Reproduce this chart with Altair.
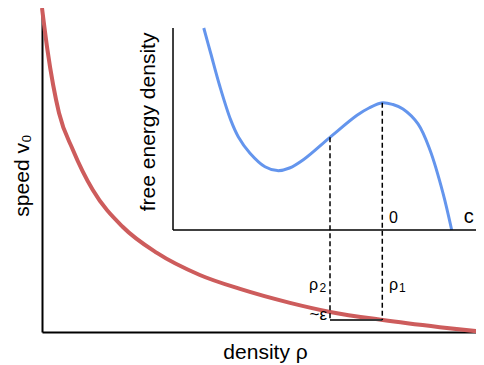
import altair as alt
import pandas as pd

# ---- data ----
# red curve: speed v0 against density rho (main axes units, both 0..10)
rho_values = [0.0, 0.124, 0.385, 0.70, 1.15, 1.83, 2.60, 3.57, 4.48, 5.61, 6.52, 7.71, 9.00, 10.0]
speed_values = [10.0, 8.70, 6.76, 5.62, 4.38, 3.24, 2.44, 1.76, 1.33, 0.90, 0.62, 0.37, 0.15, 0.0]

# blue curve: free energy density (inset units 0..10) against density
fe_rho = [3.66, 3.817, 4.027, 4.269, 4.44, 4.706, 5.045, 5.324, 5.60, 5.912, 6.516, 7.127,
          7.398, 7.699, 7.941, 8.167, 8.507, 8.778, 9.072, 9.269]
fe_values = [10.0, 8.75, 7.09, 5.45, 4.62, 3.80, 3.13, 2.94, 3.07, 3.48, 4.59, 5.68,
             6.04, 6.30, 6.21, 5.99, 5.25, 3.96, 1.83, 0.0]

rho_2 = 6.516
rho_1 = 7.699
eps_level = 0.37        # speed at rho_1 (the ~epsilon step)
dash_bottom = -4.455    # lower end of the dashed lines, inset units
inset_x = [2.964, 10.0]
inset_y = [0.0, 10.0]

FONT = "Liberation Sans"

# ---- scales / axes ----
xscale = alt.Scale(domain=[0, 10], range=[0, 442], nice=False, zero=False)
yscale = alt.Scale(domain=[0, 10], nice=False, zero=False)
iscale = alt.Scale(domain=[0, 10], range=[222, 20], nice=False, zero=False)

xaxis = alt.Axis(title="density ρ", titleFontSize=21, titleFont=FONT, titleFontWeight="normal",
                 titleColor="black", titlePadding=9, titleX=223, ticks=False, labels=False,
                 grid=False, domainColor="black", domainWidth=2)
yaxis = alt.Axis(title="speed v₀", titleFontSize=21, titleFont=FONT, titleFontWeight="normal",
                 titleColor="black", titlePadding=10, titleY=167, ticks=False, labels=False,
                 grid=False, domainColor="black", domainWidth=2)


def X(f="x"):
    return alt.X(f"{f}:Q", scale=xscale, axis=xaxis)


def Y(f="y"):
    return alt.Y(f"{f}:Q", scale=yscale, axis=yaxis)


def IY(f="y"):
    return alt.Y(f"{f}:Q", scale=iscale, axis=None)


def label(df, size, align, y_enc, dx=0, dy=0):
    return alt.Chart(df).mark_text(font=FONT, fontSize=size, align=align, baseline="alphabetic",
                                   color="black", dx=dx, dy=dy).encode(x=X(), y=y_enc, text="t:N")


# ---- main layer ----
red_df = pd.DataFrame({"x": rho_values, "y": speed_values})
red = alt.Chart(red_df).mark_line(color="#CD5C5C", strokeWidth=4, interpolate="monotone").encode(
    x=X(), y=Y())

eps_df = pd.DataFrame({"x": [rho_2], "x2": [rho_1], "y": [eps_level]})
eps_line = alt.Chart(eps_df).mark_rule(color="#3a3a3a", strokeWidth=2).encode(
    x=X(), x2="x2:Q", y=Y())

# labels rho_2 / rho_1 (symbol + subscript) and ~epsilon
rho2_df = pd.DataFrame({"x": [6.43], "y": [1.30], "t": ["ρ"]})
sub2_df = pd.DataFrame({"x": [6.43], "y": [1.30], "t": ["2"]})
rho1_df = pd.DataFrame({"x": [7.85], "y": [1.30], "t": ["ρ"]})
sub1_df = pd.DataFrame({"x": [7.85], "y": [1.30], "t": ["1"]})
eps_lab_df = pd.DataFrame({"x": [6.45], "y": [0.37], "t": ["~ε"]})

main = alt.layer(
    red, eps_line,
    label(rho2_df, 16, "right", Y(), dx=-8),
    label(sub2_df, 12, "right", Y(), dy=2),
    label(rho1_df, 16, "left", Y()),
    label(sub1_df, 12, "left", Y(), dx=10, dy=2),
    label(eps_lab_df, 17, "right", Y()),
)

# ---- inset layer ----
blue_df = pd.DataFrame({"x": fe_rho, "y": fe_values})
blue = alt.Chart(blue_df).mark_line(color="#6495ED", strokeWidth=3, interpolate="catmull-rom").encode(
    x=X(), y=IY())

top2 = fe_values[fe_rho.index(rho_2)]
top1 = fe_values[fe_rho.index(rho_1)]
dash_df = pd.DataFrame({"x": [rho_2, rho_1], "y": [top2, top1], "y2": [dash_bottom, dash_bottom]})
dashes = alt.Chart(dash_df).mark_rule(color="black", strokeWidth=1.5, strokeDash=[5, 3]).encode(
    x=X(), y=IY(), y2="y2:Q")

iv_df = pd.DataFrame({"x": [inset_x[0]], "y": [inset_y[0]], "y2": [inset_y[1]]})
iv = alt.Chart(iv_df).mark_rule(color="black", strokeWidth=1.5).encode(x=X(), y=IY(), y2="y2:Q")
ih_df = pd.DataFrame({"x": [inset_x[0]], "x2": [inset_x[1]], "y": [inset_y[0]]})
ih = alt.Chart(ih_df).mark_rule(color="black", strokeWidth=1.5).encode(x=X(), x2="x2:Q", y=IY())

zero_df = pd.DataFrame({"x": [7.85], "y": [0.35], "t": ["0"]})
c_df = pd.DataFrame({"x": [9.54], "y": [0.35], "t": ["c"]})
fe_df = pd.DataFrame({"x": [2.42], "y": [5.35], "t": ["free energy density"]})
fe_lab = alt.Chart(fe_df).mark_text(font=FONT, fontSize=21, align="center", baseline="middle",
                                    angle=270, color="black").encode(x=X(), y=IY(), text="t:N")

inset = alt.layer(blue, dashes, iv, ih,
                  label(zero_df, 16, "left", IY()),
                  label(c_df, 20, "left", IY()),
                  fe_lab)

chart = alt.layer(main, inset).resolve_scale(y="independent").properties(
    width=434, height=324,
    autosize=alt.AutoSizeParams(type="none"),
    padding={"left": 34, "top": 0, "right": 0, "bottom": 33},
    background="white",
).configure_view(stroke=None)

chart.save("out.html", embed_options={"renderer": "svg", "actions": False})
